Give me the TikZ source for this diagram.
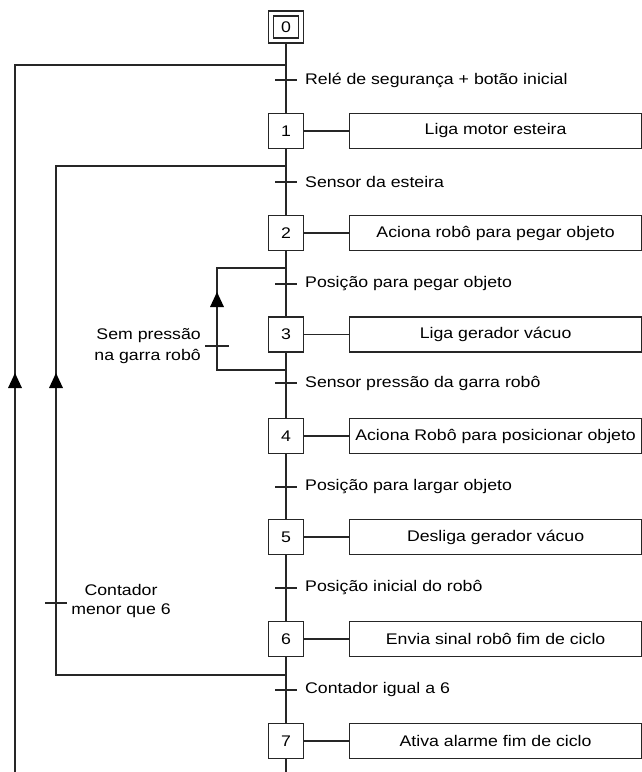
\documentclass[tikz,border=0pt]{standalone}
\usepackage{fontspec}
\setmainfont{Liberation Sans}[FakeStretch=1.15]
\usetikzlibrary{backgrounds}
\begin{document}
\begin{tikzpicture}[x=1pt,y=-1pt,
  every node/.style={font=\fontsize{15.4pt}{19pt}\selectfont},
  ln/.style={draw=black!85, line width=1.2pt},
  stepbox/.style={draw=black!85, line width=1.2pt, fill=white, minimum width=35pt, minimum height=35pt, inner sep=0pt},
  outerbox/.style={draw=black!85, line width=1.2pt, fill=white, minimum width=35pt, minimum height=32pt, inner sep=0pt},
  innerbox/.style={draw=black!85, line width=1.2pt, minimum width=25pt, minimum height=22pt, inner sep=0pt},
  actbox/.style={draw=black!85, line width=1.2pt, fill=white, minimum width=292pt, minimum height=35pt, inner sep=0pt, anchor=west},
  trlabel/.style={anchor=west, inner sep=0pt},
  tri/.style={fill=black}
]
\useasboundingbox (0,0) rectangle (642,772);

% steps
\node[outerbox] (s0) at (286,27) {};
\node[innerbox] (s0i) at (286,27) {0};
\node[stepbox] (s1) at (286,131) {1};
\node[stepbox] (s2) at (286,233) {2};
\node[stepbox] (s3) at (286,334.5) {3};
\node[stepbox] (s4) at (286,436) {4};
\node[stepbox] (s5) at (286,537) {5};
\node[stepbox] (s6) at (286,639) {6};
\node[stepbox] (s7) at (286,741) {7};

% actions
\node[actbox] (a1) at (349,131) {Liga motor esteira};
\node[actbox] (a2) at (349,233) {Aciona robô para pegar objeto};
\node[actbox] (a3) at (349,334.5) {Liga gerador vácuo};
\node[actbox] (a4) at (349,436) {Aciona Robô para posicionar objeto};
\node[actbox] (a5) at (349,537) {Desliga gerador vácuo};
\node[actbox] (a6) at (349,639) {Envia sinal robô fim de ciclo};
\node[actbox] (a7) at (349,741) {Ativa alarme fim de ciclo};

% transitions
\coordinate (t1) at (286,80);
\coordinate (t2) at (286,182);
\coordinate (t3) at (286,284);
\coordinate (t4) at (286,383);
\coordinate (t5) at (286,487);
\coordinate (t6) at (286,588);
\coordinate (t7) at (286,690);
\node[trlabel] (l1) at (305,80) {Relé de segurança + botão inicial};
\node[trlabel] (l2) at (305,182) {Sensor da esteira};
\node[trlabel] (l3) at (305,284) {Posição para pegar objeto};
\node[trlabel] (l4) at (305,383) {Sensor pressão da garra robô};
\node[trlabel] (l5) at (305,487) {Posição para largar objeto};
\node[trlabel] (l6) at (305,588) {Posição inicial do robô};
\node[trlabel] (l7) at (305,690) {Contador igual a 6};

% loop coordinates
\coordinate (oj) at (286,65);
\coordinate (oc) at (15,65);
\coordinate (ob) at (15,772);
\coordinate (ij1) at (286,166);
\coordinate (ic1) at (56,166);
\coordinate (ij2) at (286,675);
\coordinate (ic2) at (56,675);
\coordinate (pj1) at (286,268);
\coordinate (pc1) at (217,268);
\coordinate (pj2) at (286,370);
\coordinate (pc2) at (217,370);
\coordinate (mend) at (286,772);
\coordinate (tc) at (56,603);
\coordinate (tp) at (217,346);

\node[align=center, inner sep=0pt, font=\fontsize{15.4pt}{19pt}\selectfont] (lc) at (121,601.5) {Contador\\menor que 6};
\node[align=right, anchor=east, inner sep=0pt, font=\fontsize{15.4pt}{21pt}\selectfont] (lp) at (201,346.5) {Sem pressão\\na garra robô};

\begin{scope}[on background layer]
  \draw[ln] (s0) -- (s1) -- (s2) -- (s3) -- (s4) -- (s5) -- (s6) -- (s7) -- (mend);
  \foreach \i in {1,...,7} {
    \draw[ln] (s\i.east) -- (a\i.west);
    \draw[ln] ([xshift=-11pt]t\i) -- ([xshift=11pt]t\i);
  }
  \draw[ln] (oj) -- (oc) -- (ob);
  \draw[ln] (ij2) -- (ic2) -- (ic1) -- (ij1);
  \draw[ln] (pj2) -- (pc2) -- (pc1) -- (pj1);
  \draw[ln] ([xshift=-11pt]tc) -- ([xshift=11pt]tc);
  \draw[ln] ([xshift=-12pt]tp) -- ([xshift=12pt]tp);
\end{scope}

% arrowheads
\fill[tri] (15,373) -- (8,388) -- (22,388) -- cycle;
\fill[tri] (56,373) -- (49,388) -- (63,388) -- cycle;
\fill[tri] (217,292) -- (210,307) -- (224,307) -- cycle;
\end{tikzpicture}
\end{document}
